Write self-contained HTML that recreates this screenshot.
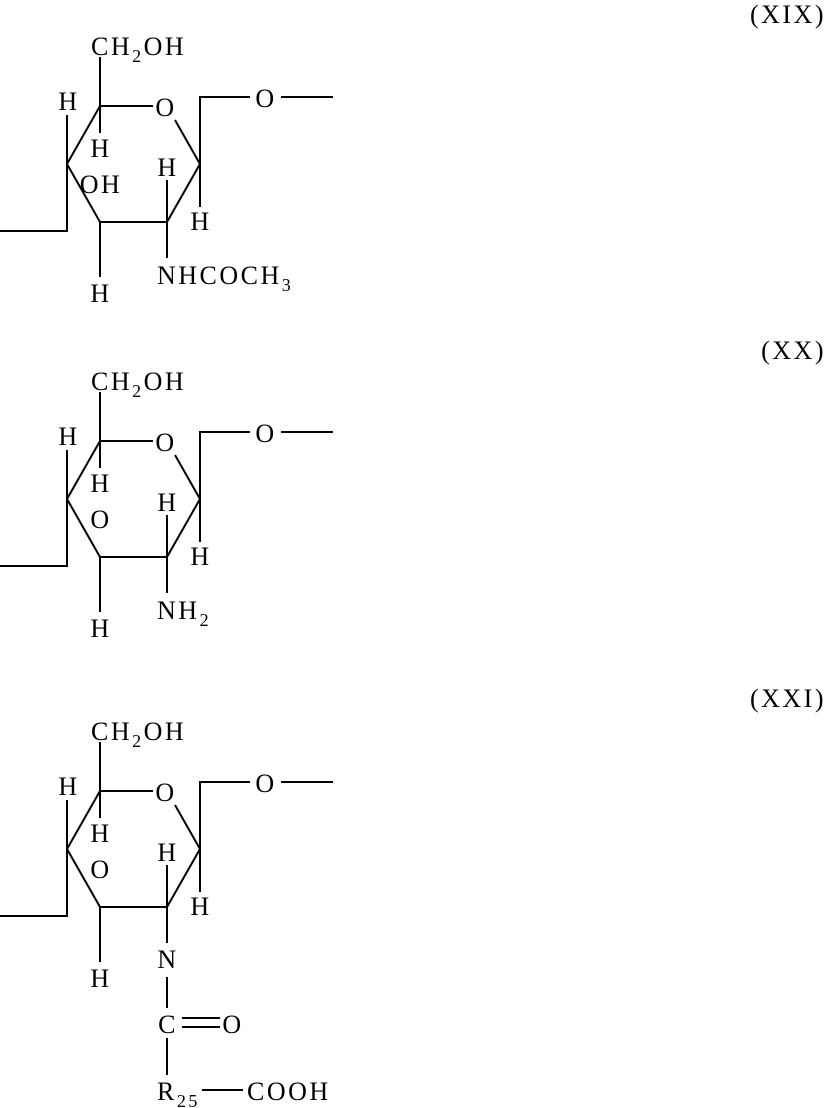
<!DOCTYPE html>
<html><head><meta charset="utf-8"><style>
html,body{margin:0;padding:0;background:#fff;}
svg{display:block;}
text{font-family:"Liberation Serif",serif;font-size:26px;fill:#000;letter-spacing:2.5px;}
line,polyline{stroke:#000;stroke-width:2;fill:none;}
</style></head><body>
<svg width="825" height="1108" viewBox="0 0 825 1108" xmlns="http://www.w3.org/2000/svg">
<defs>
<g id="ring">
  <polyline points="153,106 100,106 67,164 100,222 167,222 200,164 175,120"/>
  <line x1="100" y1="57" x2="100" y2="106"/>
  <line x1="100" y1="106" x2="100" y2="133"/>
  <polyline points="67,115 67,231 0,231"/>
  <line x1="100" y1="222" x2="100" y2="277"/>
  <line x1="167" y1="180" x2="167" y2="222"/>
  <polyline points="200,207 200,97 250,97"/>
  <line x1="281" y1="97" x2="333" y2="97"/>
  <text x="91" y="55">CH<tspan font-size="18" dy="7">2</tspan><tspan dy="-7">OH</tspan></text>
  <text x="166" y="116" text-anchor="middle">O</text>
  <text x="266" y="107" text-anchor="middle">O</text>
  <text x="69" y="110" text-anchor="middle">H</text>
  <text x="101" y="157" text-anchor="middle">H</text>
  <text x="168" y="176" text-anchor="middle">H</text>
  <text x="201" y="230" text-anchor="middle">H</text>
  <text x="101" y="302" text-anchor="middle">H</text>
</g>
</defs>
<text x="826" y="23" text-anchor="end">(XIX)</text>
<use href="#ring"/>
<text x="101" y="193" text-anchor="middle">OH</text>
<line x1="167" y1="222" x2="167" y2="258"/>
<text x="157" y="284">NHCOCH<tspan font-size="18" dy="7">3</tspan></text>

<text x="826" y="359" text-anchor="end">(XX)</text>
<g transform="translate(0,335)">
<use href="#ring"/>
<text x="101" y="193" text-anchor="middle">O</text>
<line x1="167" y1="222" x2="167" y2="258"/>
<text x="157" y="284">NH<tspan font-size="18" dy="7">2</tspan></text>
</g>

<text x="826" y="707" text-anchor="end">(XXI)</text>
<g transform="translate(0,685)">
<use href="#ring"/>
<text x="101" y="193" text-anchor="middle">O</text>
<line x1="167" y1="222" x2="167" y2="258"/>
<text x="168" y="283" text-anchor="middle">N</text>
<line x1="167" y1="292" x2="167" y2="323"/>
<text x="168" y="348" text-anchor="middle">C</text>
<line x1="182" y1="333" x2="220" y2="333"/>
<line x1="182" y1="342" x2="220" y2="342"/>
<text x="233" y="348" text-anchor="middle">O</text>
<line x1="167" y1="353" x2="167" y2="390"/>
<text x="157" y="415">R<tspan font-size="18" dy="7">25</tspan></text>
<line x1="202" y1="405" x2="243" y2="405"/>
<text x="247" y="415">COOH</text>
</g>
</svg>
</body></html>
